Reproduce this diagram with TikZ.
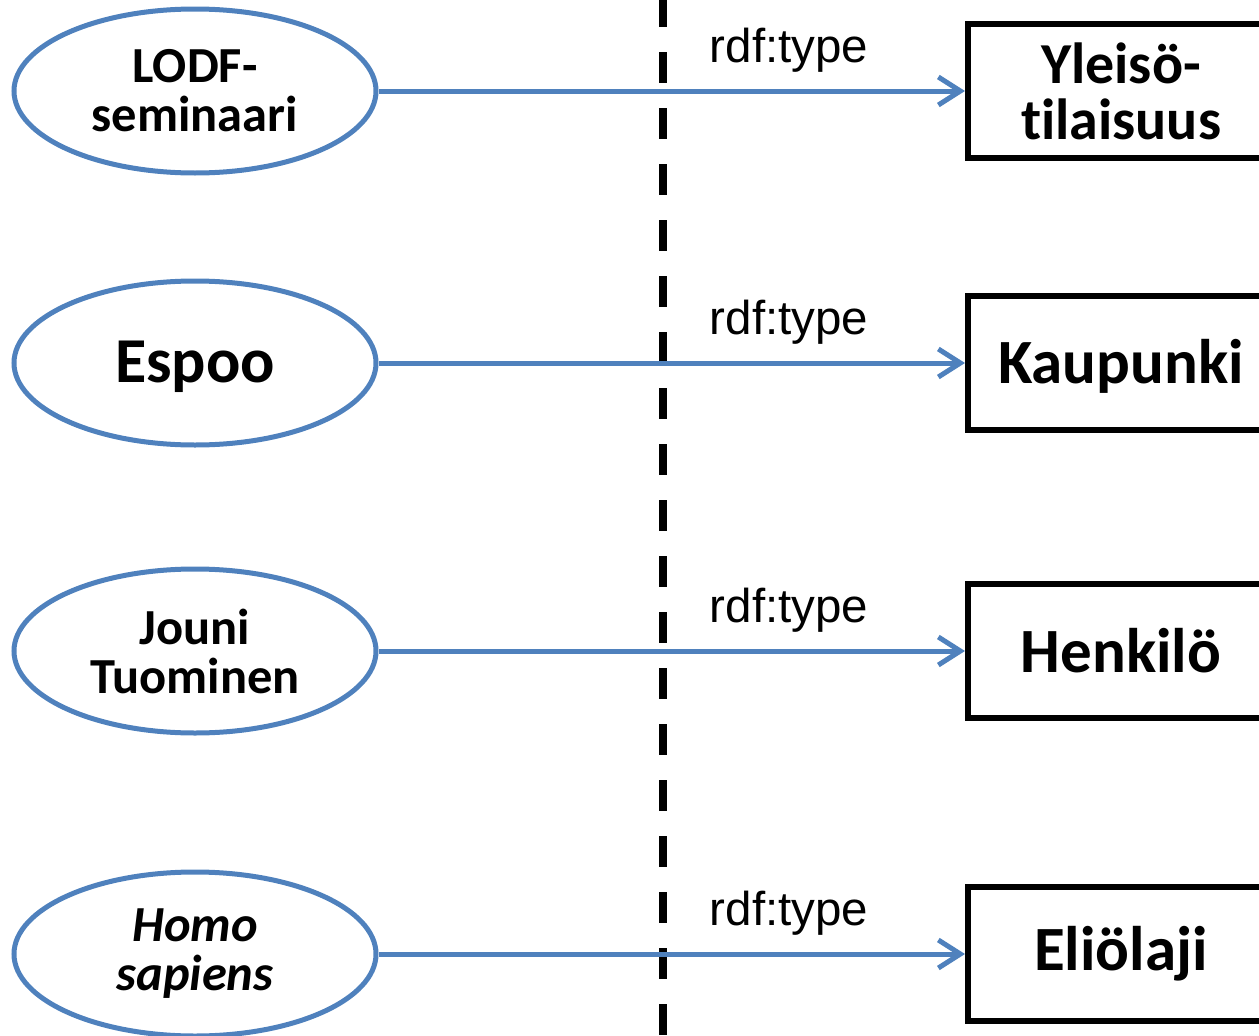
\documentclass[tikz,border=0pt]{standalone}
\usepackage{fontspec}
\setmainfont{Carlito}[Ligatures=NoCommon]
\newfontfamily\arialfont{Liberation Sans}
\usetikzlibrary{positioning,arrows.meta,shapes.geometric}
\definecolor{linkblue}{RGB}{79,129,189}

\begin{document}
\begin{tikzpicture}[x=1pt,y=-1pt,
		res/.style={draw=linkblue,line width=5pt,ellipse,minimum width=362pt,minimum height=164pt,align=center,font=\fontsize{50.5}{49}\selectfont\bfseries},
		cls/.style={draw=black,line width=6pt,rectangle,anchor=west,minimum width=306pt,minimum height=134pt,align=center,font=\fontsize{63}{56}\selectfont\bfseries},
		isa/.style={-{Straight Barb[length=22pt,width=28pt]},draw=linkblue,line width=5pt},
		lbl/.style={pos=0.7,above=16pt,inner sep=0pt,font=\arialfont\fontsize{47.5}{47.5}\selectfont}]
		\useasboundingbox (0,0) rectangle (1259,1036);
		% instances | classes
		\coordinate (divtop) at (663,-4);
		\coordinate (divbot) at (663,1036);
		\draw[line width=7.5pt,dash pattern=on 31pt off 25pt] (divtop) -- (divbot);

		\node[res] (lodf) at (195,91) {LODF-\\seminaari};
		\node[res,font=\fontsize{64}{64}\selectfont\bfseries,text depth=2pt] (espoo) at (195,363) {Espoo};
		\node[res] (jouni) at (195,651) {Jouni\\Tuominen};
		\node[res,font=\fontsize{50.5}{49}\selectfont\bfseries\itshape] (homo) at (195,954) {Homo\\sapiens};

		\node[cls,font=\fontsize{58}{56}\selectfont\bfseries] (yleiso) at (965,91) {Yleisö-\\tilaisuus};
		\node[cls,text depth=3pt] (kaupunki) at (965,363) {Kaupunki};
		\node[cls] (henkilo) at (965,651) {Henkilö};
		\node[cls] (eliolaji) at (965,954) {Eliölaji};

		\draw[isa] (lodf) to node[lbl] {rdf:type} (yleiso);
		\draw[isa] (espoo) to node[lbl] {rdf:type} (kaupunki);
		\draw[isa] (jouni) to node[lbl] {rdf:type} (henkilo);
		\draw[isa] (homo) to node[lbl] {rdf:type} (eliolaji);
\end{tikzpicture}
\end{document}
